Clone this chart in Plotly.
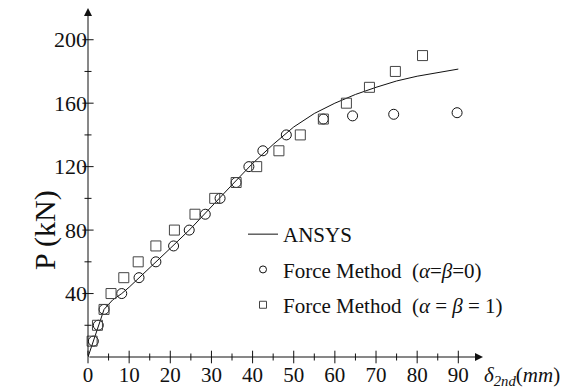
import plotly.graph_objects as go

# ANSYS finite-element load-displacement curve
ansys_d = [0, 1.3, 2.5, 3.9, 6, 8.2, 10, 15, 20, 25, 30, 35, 40, 45, 50, 55, 60, 65, 70, 75, 80, 85, 90]
ansys_p = [0, 10, 20, 30, 36, 40, 44, 56, 68.5, 81, 95, 108.5, 122, 134, 145, 153.5, 160, 165.5, 170, 174, 177, 179.3, 181.5]

# Force method, alpha = beta = 0
fm0_d = [1.3, 2.5, 3.9, 8.2, 12.4, 16.5, 20.8, 24.6, 28.5, 32.1, 36, 39.1, 42.5, 48.2, 57.2, 64.3, 74.3, 89.7]
fm0_p = [10, 20, 30, 40, 50, 60, 70, 80, 90, 100, 110, 120, 130, 140, 150, 152, 153, 154]

# Force method, alpha = beta = 1
fm1_d = [1.0, 2.3, 3.9, 5.6, 8.7, 12.2, 16.5, 21, 26, 30.8, 36, 41, 46.4, 51.6, 57.2, 62.8, 68.4, 74.7, 81.3]
fm1_p = [10, 20, 30, 40, 50, 60, 70, 80, 90, 100, 110, 120, 130, 140, 150, 160, 170, 180, 190]

# axis ticks
x_major = [0, 10, 20, 30, 40, 50, 60, 70, 80, 90]
x_minor = [5, 15, 25, 35, 45, 55, 65, 75, 85]
y_major = [40, 80, 120, 160, 200]
y_minor = [20, 60, 100, 140, 180]
x_labels = [str(v) for v in x_major]
y_labels = [str(v) for v in y_major]

X_END = 96
Y_END = 220

W, H = 572, 389
ML, MR, MT, MB = 88, 89, 8, 32
PW, PH = W - ML - MR, H - MT - MB

FONT = "Liberation Serif"
INK = "#111111"
SQ = "#444444"

NAME_FM0 = "Force Method  (<i>α</i>=<i>β</i>=0)"
NAME_FM1 = "Force Method  (<i>α</i> = <i>β</i> = 1)"

fig = go.Figure()

fig.add_trace(go.Scatter(
    x=ansys_d, y=ansys_p, mode="lines", name="ANSYS",
    line=dict(color=INK, width=1), legendgroup="a", cliponaxis=False))
fig.add_trace(go.Scatter(
    x=fm0_d, y=fm0_p, mode="markers", name=NAME_FM0, showlegend=False,
    marker=dict(symbol="circle-open", size=10, color=INK, line=dict(width=1)),
    legendgroup="b", cliponaxis=False))
fig.add_trace(go.Scatter(
    x=fm1_d, y=fm1_p, mode="markers", name=NAME_FM1, showlegend=False,
    marker=dict(symbol="square-open", size=10, color=SQ, line=dict(width=1)),
    legendgroup="c", cliponaxis=False))

# legend entries with smaller symbols
fig.add_trace(go.Scatter(
    x=[None], y=[None], mode="markers", name=NAME_FM0, legendgroup="b",
    marker=dict(symbol="circle-open", size=7, color=INK, line=dict(width=1))))
fig.add_trace(go.Scatter(
    x=[None], y=[None], mode="markers", name=NAME_FM1, legendgroup="c",
    marker=dict(symbol="square-open", size=7, color=SQ, line=dict(width=1))))

# tick marks crossing the axes
tick_style = dict(mode="markers", showlegend=False, hoverinfo="skip", cliponaxis=False)
fig.add_trace(go.Scatter(x=x_major, y=[0] * len(x_major),
                         marker=dict(symbol="line-ns", size=9, line=dict(width=1, color=INK)), **tick_style))
fig.add_trace(go.Scatter(x=x_minor, y=[0] * len(x_minor),
                         marker=dict(symbol="line-ns", size=5, line=dict(width=1, color=INK)), **tick_style))
fig.add_trace(go.Scatter(x=[0] * len(y_major), y=y_major,
                         marker=dict(symbol="line-ew", size=8, line=dict(width=1, color=INK)), **tick_style))
fig.add_trace(go.Scatter(x=[0] * len(y_minor), y=y_minor,
                         marker=dict(symbol="line-ew", size=5, line=dict(width=1, color=INK)), **tick_style))

# axes drawn as arrows running from the origin
fig.add_annotation(x=X_END, y=0, xref="x", yref="y", ax=-PW, ay=0,
                   text="", showarrow=True, arrowhead=2, arrowsize=1.6,
                   arrowwidth=1, arrowcolor=INK)
fig.add_annotation(x=0, y=Y_END, xref="x", yref="y", ax=0, ay=PH,
                   text="", showarrow=True, arrowhead=2, arrowsize=1.6,
                   arrowwidth=1, arrowcolor=INK)

# axis titles
fig.add_annotation(
    x=1.0 - 1 / PW, y=0, xref="paper", yref="paper", xanchor="left", yanchor="middle",
    yshift=-19, showarrow=False,
    text="<i>δ</i><sub><i>2nd</i></sub>(<i>mm</i>)",
    font=dict(family=FONT, size=21, color=INK))

fig.add_annotation(
    x=(45 - ML) / PW, y=(H - MB - 230) / PH, xref="paper", yref="paper",
    xanchor="center", yanchor="middle", showarrow=False,
    text="P (kN)", textangle=-90,
    font=dict(family=FONT, size=30, color=INK))

fig.update_xaxes(range=[0, X_END], showline=False, zeroline=False, showgrid=False,
                 automargin=False,
                 tickmode="array", tickvals=x_major, ticktext=x_labels, ticks="",
                 ticklabelstandoff=3, tickfont=dict(family=FONT, size=21, color=INK))
fig.update_yaxes(range=[0, Y_END], showline=False, zeroline=False, showgrid=False,
                 automargin=False,
                 tickmode="array", tickvals=y_major, ticktext=y_labels, ticks="",
                 tickfont=dict(family=FONT, size=22, color=INK))

fig.update_layout(
    width=W, height=H,
    margin=dict(l=ML, r=MR, t=MT, b=MB),
    paper_bgcolor="white", plot_bgcolor="white",
    font=dict(family=FONT, color=INK),
    showlegend=True,
    legend=dict(x=(243 - ML) / PW, y=(H - MB - 214) / PH,
                xanchor="left", yanchor="top", bgcolor="rgba(0,0,0,0)",
                font=dict(family=FONT, size=21, color=INK),
                tracegroupgap=5, itemwidth=30),
)

fig.write_html("out.html")
